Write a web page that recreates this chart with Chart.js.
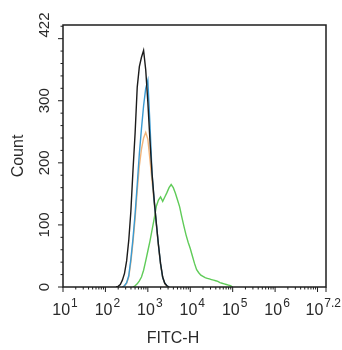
<!DOCTYPE html>
<html>
<head>
<meta charset="utf-8">
<script src="https://cdn.jsdelivr.net/npm/chart.js@4"></script>
<style>
    html, body { margin: 0; padding: 0; background: #fff; }
    #wrap { width: 342px; height: 350px; }
</style>
</head>
<body>
<div id="wrap"><canvas id="histChart" width="342" height="350"></canvas></div>
<script>
// --- histogram bins (log10 of FITC-H) ---
const fitcLog = [2.25, 2.3, 2.35, 2.4, 2.45, 2.5, 2.55, 2.6, 2.65, 2.7, 2.75, 2.8, 2.85, 2.9, 2.95, 3,
    3.05, 3.1, 3.15, 3.2, 3.25, 3.3, 3.35, 3.4, 3.45, 3.5, 3.55, 3.6, 3.65, 3.7, 3.75, 3.8, 3.85, 3.9,
    3.95, 4, 4.05, 4.1, 4.15, 4.2, 4.25, 4.3, 4.35, 4.4, 4.45, 4.5, 4.55, 4.6, 4.65, 4.7, 4.75, 4.8,
    4.85, 4.9, 4.95, 5];

// counts per bin (null = no data)
const blackCounts = [0, 1, 4, 11, 22, 42, 75, 122, 188, 248, 322, 355, 370, 381, 350, 298, 236, 182,
    140, 103, 68, 38, 16, 6, 2, 0];
const blueCounts = [null, null, null, 0, 2, 7, 18, 45, 78, 118, 165, 215, 255, 292, 320, 333, 262,
    182, 138, 102, 68, 37, 15, 6, 2, 0];
const orangeCounts = [null, null, null, 0, 2, 6, 16, 40, 72, 110, 155, 195, 222, 240, 249, 238, 205,
    170, 135, 100, 66, 36, 15, 5, 1, 0];
const greenCounts = [null, null, null, null, null, null, null, null, 0, 2, 5, 10, 16, 27, 42, 58, 74,
    92, 110, 130, 140, 145, 138, 145, 152, 160, 165, 160, 151, 140, 129, 113, 98, 84, 72, 62, 50, 38,
    28, 23, 19, 17, 15, 14, 13, 12, 11, 10, 9, 7, 6, 5, 4, 3, 2, 0];

// --- axes ---
const xMajor = [1, 2, 3, 4, 5, 6, 7, 7.2];
const xLabelPos = [1, 2, 3, 4, 5, 6, 7.2];
const xLabelExp = ['1', '2', '3', '4', '5', '6', '7.2'];
const yMajor = [0, 100, 200, 300, 400];
const yLabels = [0, 100, 200, 300, 422];

const toPoints = counts => fitcLog.map((v, i) => ({ x: v, y: counts[i] ?? null }));

const axisColor = '#1e1e1e';
const textColor = '#2a2a2a';
const fontFam = '"Liberation Sans", Arial, sans-serif';

const frame = {
    id: 'frame',
    afterDraw(chart) {
        const { ctx, chartArea: a, scales } = chart;
        const xs = scales.x, ys = scales.y;
        ctx.save();
        ctx.strokeStyle = axisColor;
        ctx.lineWidth = 1.5;
        ctx.strokeRect(a.left, a.top, a.right - a.left, a.bottom - a.top);

        // x ticks (log decades + minor 2..9)
        ctx.lineWidth = 1;
        ctx.beginPath();
        xMajor.forEach(v => {
            const px = xs.getPixelForValue(v);
            ctx.moveTo(px, a.bottom); ctx.lineTo(px, a.bottom + 5);
        });
        for (let d = 1; d < 7.2; d++) {
            for (let k = 2; k <= 9; k++) {
                const v = d + Math.log10(k);
                if (v > 7.2) break;
                const px = xs.getPixelForValue(v);
                ctx.moveTo(px, a.bottom); ctx.lineTo(px, a.bottom + 2.5);
            }
        }
        // y ticks
        for (let v = 0; v <= 422; v += 20) {
            const py = ys.getPixelForValue(v);
            const len = yMajor.includes(v) ? 5 : 2.5;
            ctx.moveTo(a.left, py); ctx.lineTo(a.left - len, py);
        }
        ctx.stroke();

        // x tick labels: 10 with superscript exponent
        ctx.fillStyle = textColor;
        ctx.textBaseline = 'alphabetic';
        ctx.textAlign = 'left';
        xLabelPos.forEach((v, i) => {
            ctx.font = '16px ' + fontFam;
            const wBase = ctx.measureText('10').width;
            ctx.font = '12px ' + fontFam;
            const wExp = ctx.measureText(xLabelExp[i]).width;
            const total = wBase + wExp + 1;
            let x0 = xs.getPixelForValue(v) - total / 2 + 2;
            if (x0 + total > chart.width - 1) x0 = chart.width - 1 - total;
            ctx.font = '16px ' + fontFam;
            ctx.fillText('10', x0, 315);
            ctx.font = '12px ' + fontFam;
            ctx.fillText(xLabelExp[i], x0 + wBase + 1, 307);
        });

        // y tick labels, rotated
        ctx.font = '15px ' + fontFam;
        ctx.textAlign = 'center';
        yLabels.forEach(v => {
            const py = ys.getPixelForValue(v);
            ctx.save();
            ctx.translate(49, py);
            ctx.rotate(-Math.PI / 2);
            ctx.fillText(String(v), 0, 0);
            ctx.restore();
        });

        // axis titles
        ctx.font = '16px ' + fontFam;
        ctx.save();
        ctx.translate(23, (a.top + a.bottom) / 2);
        ctx.rotate(-Math.PI / 2);
        ctx.fillText('Count', 0, 0);
        ctx.restore();
        ctx.fillText('FITC-H', 173, 343);
        ctx.restore();
    }
};

const lineSet = (label, counts, color) => ({
    label,
    data: toPoints(counts),
    borderColor: color,
    borderWidth: 1.4,
    pointRadius: 0,
    tension: 0,
    fill: false,
    spanGaps: false
});

new Chart(document.getElementById('histChart'), {
    type: 'line',
    data: {
        datasets: [
            lineSet('Black', blackCounts, '#1b1b1b'),
            lineSet('Blue', blueCounts, '#3a9ad2'),
            lineSet('Orange', orangeCounts, '#f2b47a'),
            lineSet('Green', greenCounts, '#5fcb58')
        ]
    },
    options: {
        responsive: false,
        animation: false,
        devicePixelRatio: 1,
        layout: { padding: { left: 0, right: 16, top: 25, bottom: 0 } },
        plugins: { legend: { display: false }, tooltip: { enabled: false } },
        scales: {
            x: {
                type: 'linear', min: 1, max: 7.2,
                ticks: { display: false },
                grid: { display: false },
                border: { display: false },
                afterFit: s => { s.height = 63; }
            },
            y: {
                type: 'linear', min: 0, max: 422,
                ticks: { display: false },
                grid: { display: false },
                border: { display: false },
                afterFit: s => { s.width = 63; }
            }
        }
    },
    plugins: [frame]
});
</script>
</body>
</html>
